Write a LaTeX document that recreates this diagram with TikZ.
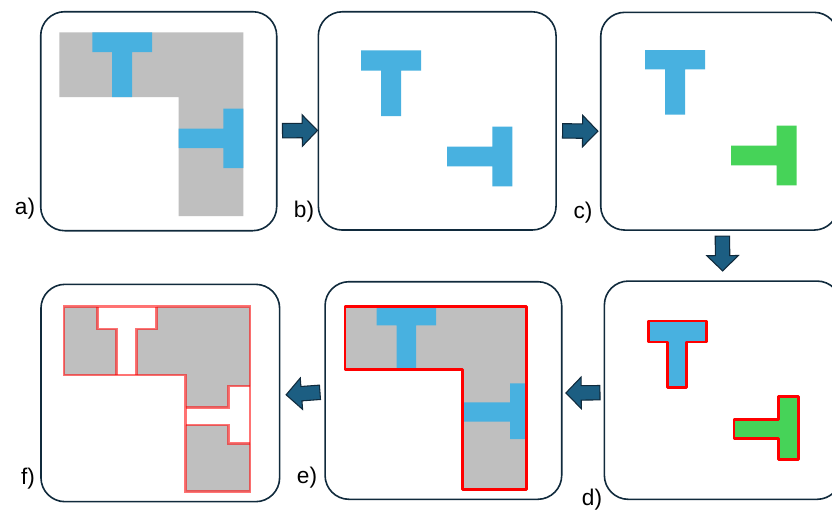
\documentclass[tikz,border=0pt]{standalone}
\usepackage{fontspec}
\setmainfont{Liberation Sans}
\usetikzlibrary{calc}

\definecolor{tblue}{RGB}{72,177,224}
\definecolor{tgreen}{RGB}{70,211,88}
\definecolor{lgray}{RGB}{191,191,191}
\definecolor{frame}{RGB}{16,42,60}
\definecolor{arrfill}{RGB}{28,94,130}
\definecolor{outred}{RGB}{255,0,0}

% block arrow from #1 to #2 (shaft, then a triangular head)
\newcommand\blockarrow[2]{%
  \path let \p1=(#1), \p2=(#2) in
    \pgfextra{\pgfmathsetmacro\baAng{atan2(\y2-\y1,\x2-\x1)}%
              \pgfmathsetmacro\baLen{veclen(\x2-\x1,\y2-\y1)}%
              \xdef\baAng{\baAng}\xdef\baLen{\baLen}%
              \xdef\baX{\x1}\xdef\baY{\y1}};
  \begin{scope}[shift={(\baX,\baY)}, rotate=\baAng]
    \filldraw[barrow] (0pt,-5.4pt) -- ({\baLen pt-11.5pt},-5.4pt)
      -- ({\baLen pt-11.5pt},-11.8pt) -- (\baLen pt,0pt)
      -- ({\baLen pt-11.5pt},11.8pt) -- ({\baLen pt-11.5pt},5.4pt)
      -- (0pt,5.4pt) -- cycle;
  \end{scope}}

\begin{document}
\begin{tikzpicture}[x=0.75pt,y=-0.75pt,
  panel/.style={draw=frame, line width=1.2pt, rounded corners=18pt,
                fill=white, inner sep=0pt},
  barrow/.style={fill=arrfill, draw=frame, line width=0.8pt, line join=miter},
  tb/.style={fill=tblue},
  tg/.style={fill=tgreen},
  gr/.style={fill=lgray},
  redline/.style={draw=outred, line width=2pt, line join=round},
  softred/.style={draw=outred, draw opacity=0.55, line width=2.1pt},
  lab/.style={inner sep=0pt, font=\fontsize{17}{20}\selectfont}]

\useasboundingbox (0,0) rectangle (832,511);
\clip (0,0) rectangle (832,511);

% panels
\node[panel, minimum width=177pt,   minimum height=164.25pt] (pa) at (158.7,121.2) {};
\node[panel, minimum width=178.3pt, minimum height=163.7pt]  (pb) at (437.2,120.9) {};
\node[panel, minimum width=178pt,   minimum height=163.3pt]  (pc) at (719.4,121.2) {};
\node[panel, minimum width=177.5pt, minimum height=163.7pt]  (pd) at (722.7,390.2) {};
\node[panel, minimum width=177.5pt, minimum height=163.2pt]  (pe) at (443.4,390.5) {};
\node[panel, minimum width=179pt,   minimum height=163pt]    (pf) at (160.3,393.0) {};

% labels
\node[lab] (la) at (25,209)  {a)};
\node[lab] (lb) at (304,212) {b)};
\node[lab] (lc) at (583,213) {c)};
\node[lab] (ld) at (592,500) {d)};
\node[lab] (le) at (307,478) {e)};
\node[lab] (lf) at (28,479)  {f)};

% arrows between panels
\blockarrow{$(pa.east)+(5,9.5)$}{$(pb.west)+(0,9.5)$}
\blockarrow{$(pb.east)+(5.7,10)$}{$(pc.west)+(-2,10)$}
\blockarrow{$(pc.south)+(3,5.3)$}{$(pd.north)+(0,-9.3)$}
\blockarrow{$(pd.west)+(-3.6,2.5)$}{$(pe.east)+(3.3,2.5)$}
\blockarrow{$(pe.west)+(-4.3,1.8)$}{$(pf.east)+(5.7,1.8)$}

% a) region with two pieces
\fill[gr] (59.3,32.3) -- (243.3,32.3) -- (243.3,216) -- (178.7,216)
  -- (178.7,97) -- (59.3,97) -- cycle;
\fill[tb] (92.3,32.3) -- (152,32.3) -- (152,52) -- (132,52) -- (132,97)
  -- (112,97) -- (112,52) -- (92.3,52) -- cycle;
\fill[tb] (243.3,108.7) -- (243.3,168) -- (223.3,168) -- (223.3,148)
  -- (178.7,148) -- (178.7,128.7) -- (223.3,128.7) -- (223.3,108.7) -- cycle;

% b) pieces alone
\fill[tb] (361,50.3) -- (421,50.3) -- (421,70.7) -- (401,70.7) -- (401,116)
  -- (381,116) -- (381,70.7) -- (361,70.7) -- cycle;
\fill[tb] (512.3,126.7) -- (512.3,186.3) -- (492.3,186.3) -- (492.3,166.3)
  -- (447,166.3) -- (447,146.7) -- (492.3,146.7) -- (492.3,126.7) -- cycle;

% c) second piece marked
\fill[tb] (645,50) -- (705,50) -- (705,69.3) -- (685,69.3) -- (685,114.7)
  -- (665,114.7) -- (665,69.3) -- (645,69.3) -- cycle;
\fill[tg] (796.7,125.7) -- (796.7,185.3) -- (776.7,185.3) -- (776.7,165.3)
  -- (731,165.3) -- (731,145.7) -- (776.7,145.7) -- (776.7,125.7) -- cycle;

% d) pieces with outlines
\filldraw[tb, redline] (648.3,321) -- (706.7,321) -- (706.7,342) -- (686.7,342)
  -- (686.7,387.3) -- (667.3,387.3) -- (667.3,342) -- (648.3,342) -- cycle;
\filldraw[tg, redline] (798.3,396.7) -- (798.3,459.3) -- (778.3,459.3)
  -- (778.3,438.3) -- (734,438.3) -- (734,419.3) -- (778.3,419.3)
  -- (778.3,396.7) -- cycle;

% e) region with pieces and outline
\fill[gr] (345,306.7) -- (526.7,306.7) -- (526.7,489.3) -- (462.3,489.3)
  -- (462.3,369.3) -- (345,369.3) -- cycle;
\fill[tb] (376.7,306.7) -- (436,306.7) -- (436,325.3) -- (416,325.3)
  -- (416,369.3) -- (396.7,369.3) -- (396.7,325.3) -- (376.7,325.3) -- cycle;
\fill[tb] (526.7,383.3) -- (526.7,439) -- (510,439) -- (510,421.7)
  -- (462.3,421.7) -- (462.3,402.3) -- (510,402.3) -- (510,383.3) -- cycle;
\draw[redline] (345,306.7) -- (526.7,306.7) -- (526.7,489.3) -- (462.3,489.3)
  -- (462.3,369.3) -- (345,369.3) -- cycle;

% f) remaining region after removing the pieces
\fill[gr] (64,306.7) -- (97.7,306.7) -- (97.7,329) -- (116.7,329)
  -- (116.7,375) -- (64,375) -- cycle;
\fill[gr] (156.7,306.7) -- (250,306.7) -- (250,386) -- (228.3,386)
  -- (228.3,407.7) -- (185.7,407.7) -- (185.7,375) -- (136.7,375)
  -- (136.7,329) -- (156.7,329) -- cycle;
\fill[gr] (185.7,425) -- (228.3,425) -- (228.3,443.3) -- (250,443.3)
  -- (250,491.7) -- (185.7,491.7) -- cycle;
\draw[softred] (64,306.7) -- (250,306.7) -- (250,491.7) -- (185.7,491.7)
  -- (185.7,375) -- (64,375) -- cycle;
\draw[softred] (97.7,306.7) -- (97.7,329) -- (116.7,329) -- (116.7,375);
\draw[softred] (156.7,306.7) -- (156.7,329) -- (136.7,329) -- (136.7,375);
\draw[softred] (250,386) -- (228.3,386) -- (228.3,407.7) -- (185.7,407.7);
\draw[softred] (250,443.3) -- (228.3,443.3) -- (228.3,425) -- (185.7,425);

\end{tikzpicture}
\end{document}
